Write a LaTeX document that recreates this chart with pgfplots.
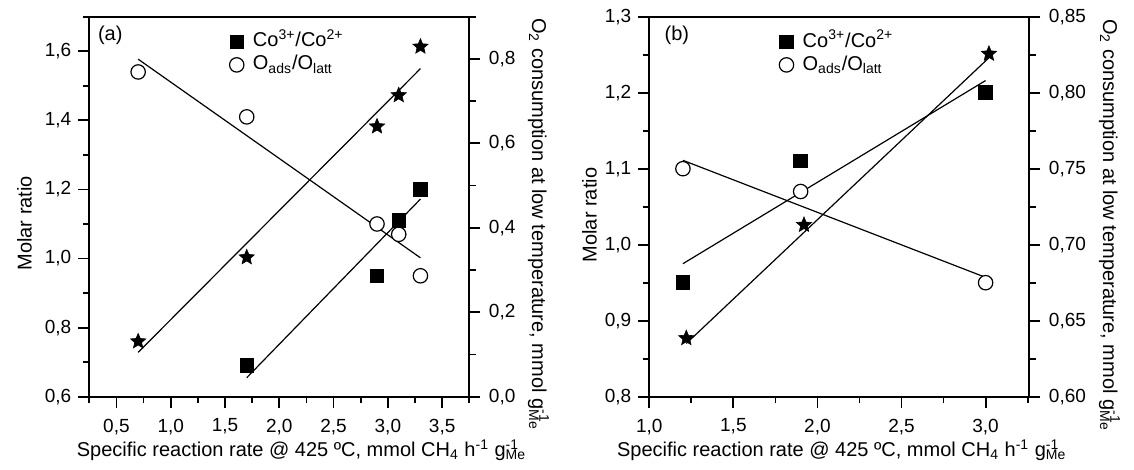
\documentclass[border=0pt]{standalone}
\usepackage{fontspec}
\setmainfont{Liberation Sans}
\usepackage{pgfplots}
\pgfplotsset{compat=1.18}

\newcommand{\gme}{g\rlap{\textsuperscript{-1}}\textsubscript{Me}}

\pgfdeclareplotmark{fstar}{%
  \pgfpathmoveto{\pgfpointpolar{90}{\pgfplotmarksize}}%
  \pgfpathlineto{\pgfpointpolar{126}{0.45\pgfplotmarksize}}%
  \pgfpathlineto{\pgfpointpolar{162}{\pgfplotmarksize}}%
  \pgfpathlineto{\pgfpointpolar{198}{0.45\pgfplotmarksize}}%
  \pgfpathlineto{\pgfpointpolar{234}{\pgfplotmarksize}}%
  \pgfpathlineto{\pgfpointpolar{270}{0.45\pgfplotmarksize}}%
  \pgfpathlineto{\pgfpointpolar{306}{\pgfplotmarksize}}%
  \pgfpathlineto{\pgfpointpolar{342}{0.45\pgfplotmarksize}}%
  \pgfpathlineto{\pgfpointpolar{18}{\pgfplotmarksize}}%
  \pgfpathlineto{\pgfpointpolar{54}{0.45\pgfplotmarksize}}%
  \pgfpathclose
  \pgfusepathqfillstroke
}

\pgfplotsset{
  base/.style={
    scale only axis, width=190pt, height=190pt,
    anchor=south west,
    tick align=outside,
    major tick length=5.5pt, minor tick length=3.2pt,
    every tick/.style={black, line width=0.9pt},
    axis line style={line width=1pt},
    ticklabel style={font=\fontsize{9.5}{11}\selectfont},
    xticklabel style={yshift=-2pt},
    /pgf/number format/assume math mode=true,
    /pgf/number format/use comma,
    /pgf/number format/fixed,
    /pgf/number format/fixed zerofill,
    /pgf/number format/precision=1,
  },
  leg/.style={
    legend style={draw=none, fill=none, inner sep=0pt, anchor=north west,
      nodes={font=\fontsize{10}{12}\selectfont, text height=7.8pt, text depth=2.7pt, inner sep=0.5pt},
      row sep=0pt,
      /tikz/every odd column/.append style={column sep=4pt}},
    legend cell align=left,
  },
  sq/.style={only marks, mark=square*, mark size=3.4pt, black, mark options={fill=black}},
  ci/.style={only marks, mark=*, mark size=3.6pt, black, mark options={fill=white, line width=0.6pt}},
  st/.style={only marks, mark=fstar, mark size=4pt, black, mark options={fill=black, line width=0.3pt}},
  fit/.style={black, line width=0.6pt, no marks},
}

\begin{document}
\begin{tikzpicture}
\path[use as bounding box] (0,0) rectangle (567pt,235pt);

% ---------------- panel (a) ----------------
\begin{axis}[base, leg, at={(44.65pt,36.65pt)},
  xmin=0.25, xmax=3.75, ymin=0.6, ymax=1.7,
  xtick={0.5,1.0,1.5,2.0,2.5,3.0,3.5},
  minor xtick={0.25,0.75,1.25,1.75,2.25,2.75,3.25,3.75},
  ytick={0.6,0.8,1.0,1.2,1.4,1.6},
  minor ytick={0.7,0.9,1.1,1.3,1.5,1.7},
  xtick pos=bottom, ytick pos=left,
  legend style={at={(axis description cs:0.368,0.965)}},
]
\addplot[sq] coordinates {(1.7,0.69) (2.9,0.95) (3.1,1.11) (3.3,1.20)};
\addlegendentry{Co\textsuperscript{3+}/Co\textsuperscript{2+}}
\addplot[ci] coordinates {(0.7,1.54) (1.7,1.41) (2.9,1.10) (3.1,1.07) (3.3,0.95)};
\addlegendentry{O\textsubscript{ads}/O\textsubscript{latt}}
\addplot[fit, forget plot] coordinates {(1.7,0.655) (3.3,1.172)};
\addplot[fit, forget plot] coordinates {(0.7,1.577) (3.3,1.002)};
\end{axis}
\begin{axis}[base, at={(44.65pt,36.65pt)},
  xmin=0.25, xmax=3.75, ymin=0, ymax=0.9,
  axis x line=none, axis y line*=right,
  ytick={0,0.2,0.4,0.6,0.8},
  minor ytick={0.1,0.3,0.5,0.7,0.9},
  yticklabel style={xshift=0.8pt},
]
\addplot[fit] coordinates {(0.7,0.105) (3.3,0.777)};
\addplot[st] coordinates {(0.7,0.131) (1.7,0.330) (2.9,0.640) (3.1,0.714) (3.3,0.829)};
\end{axis}

% ---------------- panel (b) ----------------
\begin{axis}[base, leg, at={(324.65pt,36.65pt)},
  xmin=1.0, xmax=3.26, ymin=0.8, ymax=1.3,
  xtick={1.0,1.5,2.0,2.5,3.0},
  minor xtick={1.25,1.75,2.25,2.75,3.25},
  ytick={0.8,0.9,1.0,1.1,1.2,1.3},
  minor ytick={0.85,0.95,1.05,1.15,1.25},
  xtick pos=bottom, ytick pos=left,
  legend style={at={(axis description cs:0.341,0.965)}},
]
\addplot[sq] coordinates {(1.2,0.95) (1.9,1.11) (3.0,1.20)};
\addlegendentry{Co\textsuperscript{3+}/Co\textsuperscript{2+}}
\addplot[ci] coordinates {(1.2,1.10) (1.9,1.07) (3.0,0.95)};
\addlegendentry{O\textsubscript{ads}/O\textsubscript{latt}}
\addplot[fit, forget plot] coordinates {(1.2,0.975) (3.0,1.216)};
\addplot[fit, forget plot] coordinates {(1.2,1.111) (3.0,0.957)};
\end{axis}
\begin{axis}[base, at={(324.65pt,36.65pt)},
  xmin=1.0, xmax=3.26, ymin=0.6, ymax=0.85,
  axis x line=none, axis y line*=right,
  ytick={0.60,0.65,0.70,0.75,0.80,0.85},
  minor ytick={0.625,0.675,0.725,0.775,0.825},
  /pgf/number format/precision=2,
  yticklabel style={xshift=0.8pt},
]
\addplot[fit] coordinates {(1.22,0.635) (3.02,0.823)};
\addplot[st] coordinates {(1.22,0.6385) (1.92,0.713) (3.02,0.8256)};
\end{axis}

% ---------------- texts ----------------
\begin{scope}[every node/.style={font=\fontsize{10}{12}\selectfont, inner sep=0pt}]
\node[anchor=west] at (48.8pt,217.5pt) {(a)};
\node[anchor=west] at (332.15pt,217.5pt) {(b)};
\node[anchor=base] at (150.75pt,6.5pt) {Specific reaction rate @ 425 ºC, mmol CH\textsubscript{4} h\textsuperscript{-1} \gme};
\node[anchor=base] at (420.85pt,6.5pt) {Specific reaction rate @ 425 ºC, mmol CH\textsubscript{4} h\textsuperscript{-1} \gme};
\node[anchor=base, rotate=90] at (15.85pt,123.35pt) {Molar ratio};
\node[anchor=base, rotate=90] at (298.35pt,127.5pt) {Molar ratio};
\node[anchor=base, rotate=-90] at (266pt,123pt) {O\textsubscript{2} consumption at low temperature, mmol \gme};
\node[anchor=base, rotate=-90] at (551.5pt,122.5pt) {O\textsubscript{2} consumption at low temperature, mmol \gme};
\end{scope}
\end{tikzpicture}
\end{document}
